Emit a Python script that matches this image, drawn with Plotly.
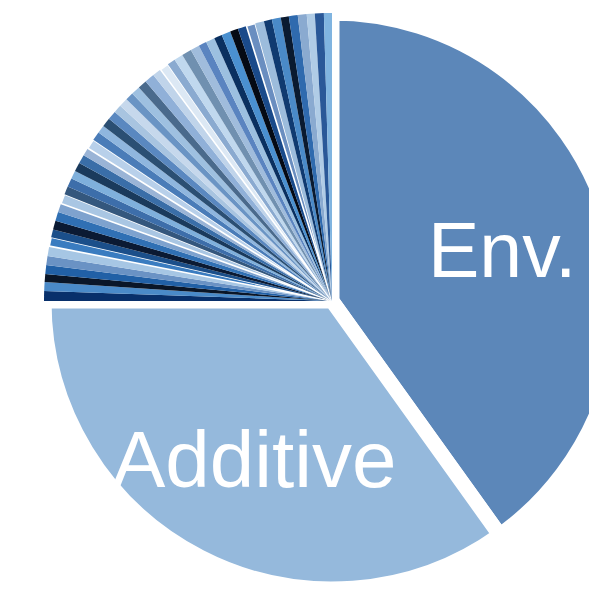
import plotly.graph_objects as go

# Variance components: two large shares plus many small ones
big_labels = ["Env.", "Additive"]
big_values = [40.1, 34.9]
big_colors = ["#5c87b9", "#95b9dc"]

small_values = [0.55, 0.5, 0.45, 0.5, 0.5, 0.55, 0.5, 0.45, 0.5, 0.5,
                0.5, 0.55, 0.45, 0.5, 0.45, 0.5, 0.5, 0.45, 0.55, 0.5,
                0.45, 0.5, 0.5, 0.45, 0.5, 0.45, 0.5, 0.5, 0.55, 0.5,
                0.5, 0.45, 0.5, 0.55, 0.5, 0.45, 0.5, 0.45, 0.5, 0.45,
                0.5, 0.5, 0.5, 0.45, 0.5, 0.45, 0.5, 0.5, 0.45, 0.5,
                0.45]
small_colors = ["#08306b", "#4a8ac8", "#0a1628", "#2160a6", "#6a92c4",
                "#a6c6e4", "#3a7cc0", "#1b4f8a", "#0b1a33", "#3070b4",
                "#7ea2ce", "#a9c6e3", "#34577d", "#3d6eaa", "#7fb0dc",
                "#1a3a5c", "#3a6ea8", "#9ab4d6", "#b8d0ea", "#4a7cb8",
                "#8fb6de", "#2b4f73", "#5a88c0", "#a8c4e0", "#c6d8ec",
                "#6a94c4", "#9ec0e0", "#4a6a8c", "#90b0d8", "#c0d4ea",
                "#dce8f4", "#8aaad0", "#c0d8ee", "#7090b0", "#a0bcdc",
                "#5a84c0", "#9cc0e0", "#0a3060", "#4a90d0", "#050a14",
                "#1a4a8a", "#6a8ec0", "#9cbcdc", "#103a70", "#4a8ac8",
                "#0a1a30", "#2f6aae", "#8aaad0", "#b0cce6", "#2a5898",
                "#80b4e0"]
small_labels = [f"c{i + 1}" for i in range(len(small_values))]

# slices that get a thin white separating edge
edged = {6, 11, 18, 30, 41}
small_widths = [1.6 if i in edged else 0 for i in range(len(small_values))]

labels = big_labels + small_labels
values = big_values + small_values
colors = big_colors + small_colors
widths = [15, 15] + small_widths

fig = go.Figure(go.Pie(
    labels=labels,
    values=values,
    sort=False,
    direction="clockwise",
    rotation=0,
    textinfo="none",
    hoverinfo="label+percent",
    marker=dict(colors=colors, line=dict(color="white", width=widths)),
    showlegend=False,
))

W, H = 664, 592
top, bottom = 13, 3
ph = H - top - bottom

def px(x):
    return x / W

def py(y):
    return (H - bottom - y) / ph

font = "Liberation Sans, Arial, Helvetica, sans-serif"
fig.add_annotation(text="Env.", x=px(502), y=py(250), xref="paper", yref="paper",
                   xanchor="center", yanchor="middle", showarrow=False,
                   font=dict(family=font, size=77, color="white"))
fig.add_annotation(text="Additive", x=px(254), y=py(459), xref="paper", yref="paper",
                   xanchor="center", yanchor="middle", showarrow=False,
                   font=dict(family=font, size=80, color="white"))

fig.update_layout(
    width=W, height=H,
    margin=dict(l=0, r=0, t=top, b=bottom),
    paper_bgcolor="white",
    plot_bgcolor="white",
)

fig.write_html(
    "out.html",
    config={"displayModeBar": False},
    post_script=("document.body.style.margin='0';"
                 "document.body.style.overflow='hidden';"
                 "document.documentElement.style.overflow='hidden';"),
)
